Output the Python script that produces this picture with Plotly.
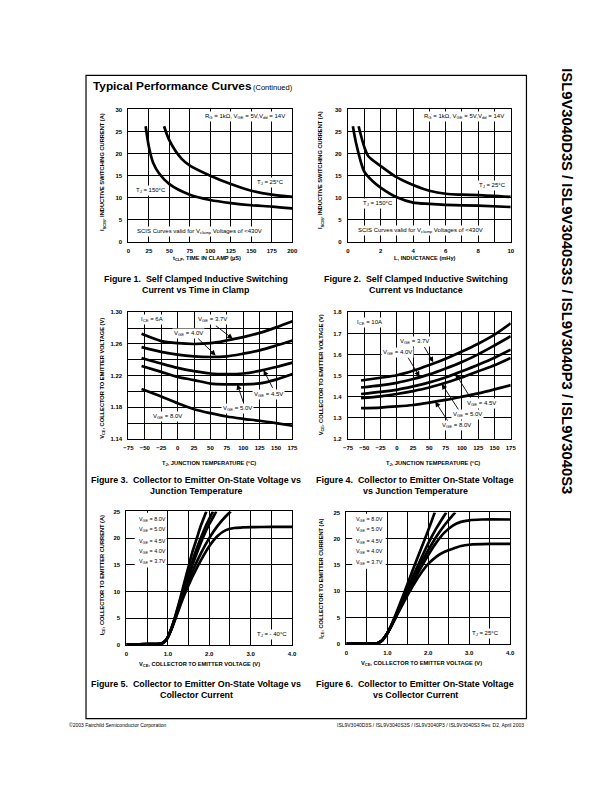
import plotly.graph_objects as go

W, H = 612, 792
FONT = "Liberation Sans"

# ---------------- DATA ----------------
# Figure 1: I_SCIS vs time in clamp
fig1_t25_t = [43.5, 50, 65, 75, 100, 125, 150, 175, 200]
fig1_t25_i = [26.2, 23.0, 18.8, 17.3, 15.0, 13.1, 11.6, 10.7, 10.2]
fig1_t150_t = [21, 25, 30, 37.5, 50, 75, 100, 125, 150, 175, 200]
fig1_t150_i = [26.2, 21.5, 18.0, 15.5, 13.1, 10.7, 9.5, 8.8, 8.3, 8.0, 7.6]

# Figure 2: I_SCIS vs inductance
fig2_t25_l = [0.65, 1.0, 1.25, 2, 3, 4, 5, 6, 7, 8, 10]
fig2_t25_i = [26.2, 21.5, 19.4, 17.2, 14.6, 12.9, 11.6, 10.9, 10.7, 10.6, 10.2]
fig2_t150_l = [0.3, 0.5, 1.0, 1.5, 2, 3, 4, 5, 6, 8, 10]
fig2_t150_i = [26.2, 22.3, 15.9, 13.8, 12.3, 10.1, 8.9, 8.6, 8.4, 8.2, 7.9]

# Figure 3: VCE vs TJ, ICE = 6A
fig3_tj = [-55, -25, 0, 25, 50, 75, 100, 125, 150, 175]
fig3_v37 = [1.2728, 1.2637, 1.2610, 1.2600, 1.2610, 1.2645, 1.2687, 1.2740, 1.2810, 1.2887]
fig3_v40 = [1.2560, 1.2500, 1.2465, 1.2444, 1.2436, 1.2444, 1.2478, 1.2520, 1.2580, 1.2645]
fig3_v45 = [1.2424, 1.2353, 1.2298, 1.2257, 1.2227, 1.2220, 1.2227, 1.2260, 1.2310, 1.2365]
fig3_v50 = [1.2323, 1.2248, 1.2185, 1.2144, 1.2100, 1.2090, 1.2090, 1.2102, 1.2150, 1.2220]
fig3_v80 = [1.2031, 1.1936, 1.1851, 1.1776, 1.1726, 1.1684, 1.1655, 1.1630, 1.1600, 1.1567]

# Figure 4: VCE vs TJ, ICE = 10A
fig4_tj = [-55, -25, 0, 25, 50, 75, 100, 125, 150, 175]
fig4_v37 = [1.477, 1.490, 1.502, 1.523, 1.550, 1.580, 1.614, 1.651, 1.694, 1.748]
fig4_v40 = [1.444, 1.454, 1.466, 1.484, 1.506, 1.534, 1.565, 1.601, 1.643, 1.687]
fig4_v45 = [1.413, 1.423, 1.433, 1.449, 1.468, 1.491, 1.521, 1.552, 1.585, 1.623]
fig4_v50 = [1.393, 1.402, 1.413, 1.427, 1.444, 1.466, 1.491, 1.521, 1.549, 1.584]
fig4_v80 = [1.346, 1.349, 1.354, 1.361, 1.372, 1.385, 1.400, 1.416, 1.435, 1.455]

# Figure 5: ICE vs VCE, TJ = -40C
fig5_80_x = [0, 0.5, 0.85, 0.95, 1.0, 1.1, 1.2, 1.3, 1.4, 1.5, 1.6, 1.7, 1.8, 1.93]
fig5_80_y = [0.15, 0.2, 0.3, 0.9, 1.5, 3.5, 6.0, 8.8, 11.8, 14.7, 17.6, 20.0, 22.4, 25.0]
fig5_50_x = [0, 0.5, 0.85, 0.95, 1.0, 1.1, 1.2, 1.3, 1.4, 1.5, 1.6, 1.7, 1.8, 1.9, 2.0, 2.09]
fig5_50_y = [0.15, 0.2, 0.3, 0.9, 1.5, 3.4, 5.8, 8.4, 11.0, 13.5, 15.9, 18.1, 20.1, 22.0, 23.6, 25.0]
fig5_45_x = [0, 0.5, 0.85, 0.95, 1.0, 1.1, 1.2, 1.3, 1.4, 1.5, 1.6, 1.7, 1.8, 1.9, 2.0, 2.1, 2.17]
fig5_45_y = [0.15, 0.2, 0.3, 0.9, 1.5, 3.4, 5.7, 8.2, 10.6, 12.9, 15.1, 17.2, 19.2, 21.0, 22.6, 24.0, 25.0]
fig5_40_x = [0, 0.5, 0.85, 0.95, 1.0, 1.1, 1.2, 1.3, 1.4, 1.5, 1.6, 1.8, 2.0, 2.2, 2.4, 2.52]
fig5_40_y = [0.15, 0.2, 0.3, 0.9, 1.5, 3.3, 5.5, 7.8, 10.0, 12.0, 13.9, 17.2, 20.0, 22.3, 24.1, 25.0]
fig5_37_x = [0, 0.5, 0.85, 0.95, 1.0, 1.1, 1.2, 1.3, 1.4, 1.5, 1.6, 1.8, 2.0, 2.2, 2.4, 2.6, 2.8, 3.0, 3.5, 4.0]
fig5_37_y = [0.15, 0.2, 0.3, 0.9, 1.5, 3.2, 5.3, 7.4, 9.4, 11.2, 12.9, 15.9, 18.5, 20.4, 21.5, 21.9, 22.0, 22.05, 22.1, 22.1]

# Figure 6: ICE vs VCE, TJ = 25C
fig6_80_x = [0, 0.5, 0.75, 0.85, 0.9, 1.0, 1.1, 1.2, 1.4, 1.6, 1.8, 2.0, 2.16]
fig6_80_y = [0.05, 0.05, 0.1, 0.5, 0.9, 2.0, 3.6, 5.5, 9.5, 13.6, 17.6, 21.6, 25.0]
fig6_50_x = [0, 0.5, 0.75, 0.85, 0.9, 1.0, 1.1, 1.2, 1.4, 1.6, 1.8, 2.0, 2.2, 2.44]
fig6_50_y = [0.05, 0.05, 0.1, 0.5, 0.9, 2.0, 3.5, 5.3, 8.9, 12.4, 15.8, 19.1, 22.0, 25.0]
fig6_45_x = [0, 0.5, 0.75, 0.85, 0.9, 1.0, 1.1, 1.2, 1.4, 1.6, 1.8, 2.0, 2.2, 2.4, 2.66]
fig6_45_y = [0.05, 0.05, 0.1, 0.5, 0.9, 2.0, 3.5, 5.2, 8.6, 11.8, 14.9, 17.8, 20.4, 22.6, 25.0]
fig6_40_x = [0, 0.5, 0.75, 0.85, 0.9, 1.0, 1.1, 1.2, 1.4, 1.6, 1.8, 2.0, 2.2, 2.4, 2.6, 2.8, 3.0, 3.3, 4.0]
fig6_40_y = [0.05, 0.05, 0.1, 0.5, 0.9, 2.0, 3.4, 5.0, 8.2, 11.3, 14.2, 16.9, 19.3, 21.2, 22.5, 23.2, 23.5, 23.65, 23.65]
fig6_37_x = [0, 0.5, 0.75, 0.85, 0.9, 1.0, 1.1, 1.2, 1.4, 1.6, 1.8, 2.0, 2.2, 2.4, 2.6, 2.8, 3.0, 3.5, 4.0]
fig6_37_y = [0.05, 0.05, 0.1, 0.5, 0.9, 2.0, 3.4, 4.9, 7.9, 10.7, 13.2, 15.2, 16.6, 17.5, 18.1, 18.6, 18.85, 19.0, 19.0]

vge_labels = ["V<sub>GE</sub> = 8.0V", "V<sub>GE</sub> = 5.0V", "V<sub>GE</sub> = 4.5V",
              "V<sub>GE</sub> = 4.0V", "V<sub>GE</sub> = 3.7V"]

# ---------------- LAYOUT HELPERS ----------------
def px(x):
    return x / W

def py(y):
    return 1 - y / H

fig = go.Figure()

def line(xs, ys, n, width=2.7):
    fig.add_trace(go.Scatter(x=xs, y=ys, mode="lines", xaxis="x" + n, yaxis="y" + n,
                             line=dict(color="black", width=width, shape="spline", smoothing=0.8),
                             showlegend=False, hoverinfo="skip"))

line(fig1_t25_t, fig1_t25_i, "")
line(fig1_t150_t, fig1_t150_i, "")
line(fig2_t25_l, fig2_t25_i, "2")
line(fig2_t150_l, fig2_t150_i, "2")
for v in (fig3_v37, fig3_v40, fig3_v45, fig3_v50, fig3_v80):
    line(fig3_tj, v, "3")
for v in (fig4_v37, fig4_v40, fig4_v45, fig4_v50, fig4_v80):
    line(fig4_tj, v, "4")
for xs, ys in ((fig5_80_x, fig5_80_y), (fig5_50_x, fig5_50_y), (fig5_45_x, fig5_45_y),
               (fig5_40_x, fig5_40_y), (fig5_37_x, fig5_37_y)):
    line(xs, ys, "5")
for xs, ys in ((fig6_80_x, fig6_80_y), (fig6_50_x, fig6_50_y), (fig6_45_x, fig6_45_y),
               (fig6_40_x, fig6_40_y), (fig6_37_x, fig6_37_y)):
    line(xs, ys, "6")

tickfont = dict(family=FONT, size=6, color="black", weight="bold")
grid = dict(showgrid=True, gridcolor="black", gridwidth=0.8, zeroline=False,
            showline=True, mirror=True, linecolor="black", linewidth=1.3,
            ticks="", tickfont=tickfont)

panels = [
    ("", (125.7, 292.5), (107.3, 240.7)),
    ("2", (349.3, 515.0), (107.3, 240.7)),
    ("3", (125.7, 292.7), (311.7, 439.3)),
    ("4", (349.3, 515.0), (311.7, 439.3)),
    ("5", (123.7, 292.3), (512.3, 647.0)),
    ("6", (347.7, 514.3), (513.3, 645.7)),
]
xspec = {
    "": dict(range=[0, 200], dtick=25, tick0=0),
    "2": dict(range=[0, 10], dtick=2, tick0=0,
              minor=dict(dtick=1, showgrid=True, gridcolor="black", gridwidth=0.8, ticks="")),
    "3": dict(range=[-75, 175], dtick=25, tick0=-75),
    "4": dict(range=[-75, 175], dtick=25, tick0=-75),
    "5": dict(range=[0, 4], tickvals=[0, 1, 2, 3, 4], ticktext=["0", "1.0", "2.0", "3.0", "4.0"],
              minor=dict(dtick=0.5, showgrid=True, gridcolor="black", gridwidth=0.8, ticks="")),
    "6": dict(range=[0, 4], tickvals=[0, 1, 2, 3, 4], ticktext=["0", "1.0", "2.0", "3.0", "4.0"],
              minor=dict(dtick=0.5, showgrid=True, gridcolor="black", gridwidth=0.8, ticks="")),
}
yspec = {
    "": dict(range=[0, 30], dtick=5, tick0=0),
    "2": dict(range=[0, 30], dtick=5, tick0=0),
    "3": dict(range=[1.14, 1.30], dtick=0.04, tick0=1.14, tickformat=".2f",
              minor=dict(dtick=0.02, showgrid=True, gridcolor="black", gridwidth=0.8, ticks="")),
    "4": dict(range=[1.2, 1.8], dtick=0.1, tick0=1.2, tickformat=".1f"),
    "5": dict(range=[0, 25], dtick=5, tick0=0),
    "6": dict(range=[0, 25], dtick=5, tick0=0),
}
lay = {}
for n, (x0, x1), (y0, y1) in panels:
    lay["xaxis" + n] = dict(domain=[px(x0), px(x1)], anchor="y" + n, ticklabelstandoff=3,
                            **grid, **xspec[n])
    lay["yaxis" + n] = dict(domain=[py(y1), py(y0)], anchor="x" + n, ticklabelstandoff=4,
                            **grid, **yspec[n])

ann = []
def txt(x, y, text, size=6, xref="paper", yref="paper", xanchor="center", bold=False,
        angle=0, bg=None, yanchor="middle"):
    d = dict(x=x, y=y, text=text, xref=xref, yref=yref, xanchor=xanchor, yanchor=yanchor,
             showarrow=False, textangle=angle,
             font=dict(family=FONT, size=size, color="black", weight="bold" if bold else "normal"))
    if bg:
        d["bgcolor"] = bg
        d["borderpad"] = 1
    ann.append(d)

def arrow(n, hx, hy, tx, ty):
    ann.append(dict(x=hx, y=hy, ax=tx, ay=ty, xref="x" + n, yref="y" + n,
                    axref="x" + n, ayref="y" + n, text="", showarrow=True,
                    arrowhead=2, arrowsize=1.2, arrowwidth=0.9, arrowcolor="black"))

# Page title and side text
txt(px(88), py(84), "<b>Typical Performance Curves</b>", size=11.8, xanchor="left")
txt(px(251), py(85), "(Continued)", size=7.5, xanchor="left")
txt(px(572), py(280), "<b>ISL9V3040D3S / ISL9V3040S3S / ISL9V3040P3 / ISL9V3040S3</b>",
    size=14.8, angle=90)
txt(px(63), py(728), "©2003 Fairchild Semiconductor Corporation", size=5, xanchor="left")
txt(px(531), py(728), "ISL9V3040D3S / ISL9V3040S3S / ISL9V3040P3 / ISL9V3040S3 Rev. D2, April 2003",
    size=5, xanchor="right")

# Axis titles
ytitle_flux = "I<sub>SCIS</sub>, INDUCTIVE SWITCHING CURRENT (A)"
ytitle_vce = "V<sub>CE</sub>, COLLECTOR TO EMITTER VOLTAGE (V)"
ytitle_ice = "I<sub>CE</sub>, COLLECTOR TO EMITTER CURRENT (A)"
txt(px(100), py(170), ytitle_flux, size=5.7, bold=True, angle=-90)
txt(px(322), py(168), ytitle_flux, size=5.7, bold=True, angle=-90)
txt(px(98.5), py(378), ytitle_vce, size=5.7, bold=True, angle=-90)
txt(px(322), py(375), ytitle_vce, size=5.7, bold=True, angle=-90)
txt(px(99.5), py(577), ytitle_ice, size=5.7, bold=True, angle=-90)
txt(px(322), py(580), ytitle_ice, size=5.7, bold=True, angle=-90)

txt(px(206), py(257), "t<sub>CLP</sub>, TIME IN CLAMP (µS)", size=5.7, bold=True)
txt(px(428), py(257), "L, INDUCTANCE (mHy)", size=5.7, bold=True)
txt(px(208), py(464), "T<sub>J</sub>, JUNCTION TEMPERATURE (°C)", size=5.7, bold=True)
txt(px(436), py(464), "T<sub>J</sub>, JUNCTION TEMPERATURE (°C)", size=5.7, bold=True)
txt(px(198), py(667), "V<sub>CE</sub>, COLLECTOR TO EMITTER VOLTAGE (V)", size=5.7, bold=True)
txt(px(424), py(666), "V<sub>CE</sub>, COLLECTOR TO EMITTER VOLTAGE (V)", size=5.7, bold=True)

# Captions
SP = " \u00a0"
caps = [
    (195, 278, "Figure 1." + SP + "Self Clamped Inductive Switching", "Current vs Time in Clamp"),
    (419, 278, "Figure 2." + SP + "Self Clamped Inductive Switching", "Current vs Inductance"),
    (195, 481, "Figure 3." + SP + "Collector to Emitter On-State Voltage vs", "Junction Temperature"),
    (418, 481, "Figure 4." + SP + "Collector to Emitter On-State Voltage", "vs Junction Temperature"),
    (195, 686, "Figure 5." + SP + "Collector to Emitter On-State Voltage vs", "Collector Current"),
    (418, 686, "Figure 6." + SP + "Collector to Emitter On-State Voltage", "vs Collector Current"),
]
for cx, cy, l1, l2 in caps:
    txt(px(cx), py(cy), l1, size=8.9, bold=True)
    txt(px(cx), py(cy + 11.2), l2, size=8.9, bold=True)

# Plot 1 annotations
cond = "R<sub>G</sub> = 1kΩ, V<sub>GE</sub> = 5V,V<sub>dd</sub> = 14V"
scis = "SCIS Curves valid for V<sub>clamp</sub> Voltages of &lt;430V"
txt(142.2, 28.5, cond, xref="x", yref="y", bg="white")
txt(173.6, 13.4, "T<sub>J</sub> = 25°C", xref="x", yref="y", bg="white")
txt(28, 11.55, "T<sub>J</sub> = 150°C", xref="x", yref="y", bg="white")
txt(86.8, 2.4, scis, xref="x", yref="y", bg="white")
# Plot 2
txt(7.14, 28.5, cond, xref="x2", yref="y2", bg="white")
txt(8.85, 12.68, "T<sub>J</sub> = 25°C", xref="x2", yref="y2", bg="white")
txt(1.87, 8.63, "T<sub>J</sub> = 150°C", xref="x2", yref="y2", bg="white")
txt(4.47, 2.55, scis, xref="x2", yref="y2", bg="white")
# Plot 3
txt(-58.5, 1.2904, "I<sub>CE</sub> = 6A", xref="x3", yref="y3", xanchor="left", bg="white")
txt(53.7, 1.2904, "V<sub>GE</sub> = 3.7V", xref="x3", yref="y3", bg="white")
txt(16.3, 1.2728, "V<sub>GE</sub> = 4.0V", xref="x3", yref="y3", bg="white")
txt(138.6, 1.1964, "V<sub>GE</sub> = 4.5V", xref="x3", yref="y3", bg="white")
txt(91.2, 1.178, "V<sub>GE</sub> = 5.0V", xref="x3", yref="y3", bg="white")
txt(-16.1, 1.1684, "V<sub>GE</sub> = 8.0V", xref="x3", yref="y3", bg="white")
arrow("3", 84, 1.2665, 56, 1.2845)
arrow("3", 58, 1.2455, 29, 1.2687)
arrow("3", 131, 1.2269, 146, 1.2027)
arrow("3", 91, 1.209, 101, 1.1843)
# Plot 4
txt(-63.9, 1.75, "I<sub>CE</sub> = 10A", xref="x4", yref="y4", xanchor="left", bg="white")
txt(26.6, 1.662, "V<sub>GE</sub> = 3.7V", xref="x4", yref="y4", bg="white")
txt(1.5, 1.609, "V<sub>GE</sub> = 4.0V", xref="x4", yref="y4", bg="white")
txt(129.7, 1.369, "V<sub>GE</sub> = 4.5V", xref="x4", yref="y4", bg="white")
txt(108.1, 1.314, "V<sub>GE</sub> = 5.0V", xref="x4", yref="y4", bg="white")
txt(92, 1.2626, "V<sub>GE</sub> = 8.0V", xref="x4", yref="y4", bg="white")
arrow("4", 56, 1.563, 41, 1.643)
arrow("4", 35, 1.495, 16, 1.592)
arrow("4", 90, 1.51, 114.6, 1.388)
arrow("4", 69, 1.461, 96, 1.333)
arrow("4", 59, 1.377, 79.4, 1.28)
# Plot 5
for lab, yy in zip(vge_labels, [23.58, 21.53, 19.43, 17.57, 15.66]):
    txt(0.245, yy, lab, size=5.4, xref="x5", yref="y5", xanchor="left")
txt(3.52, 1.92, "T<sub>J</sub> = - 40°C", xref="x5", yref="y5", bg="white")
# Plot 6
for lab, yy in zip(vge_labels, [23.6, 21.66, 19.52, 17.57, 15.43]):
    txt(0.19, yy, lab, size=5.4, xref="x6", yref="y6", xanchor="left")
txt(3.4, 1.89, "T<sub>J</sub> = 25°C", xref="x6", yref="y6", bg="white")

shapes = [
    dict(type="rect", xref="paper", yref="paper", x0=px(82.5), x1=px(531), y0=py(721), y1=py(73),
         line=dict(color="black", width=1.2), fillcolor="rgba(0,0,0,0)"),
    dict(type="rect", xref="x5", yref="y5", x0=0.2, x1=0.97, y0=14.5, y1=24.75,
         fillcolor="white", line=dict(width=0), layer="above"),
    dict(type="rect", xref="x6", yref="y6", x0=0.14, x1=0.96, y0=14.3, y1=24.75,
         fillcolor="white", line=dict(width=0), layer="above"),
]

fig.update_layout(width=W, height=H, margin=dict(l=0, r=0, t=0, b=0),
                  paper_bgcolor="white", plot_bgcolor="white",
                  annotations=ann, shapes=shapes, showlegend=False, **lay)
fig.write_html("out.html", config={"displayModeBar": False},
               post_script="document.body.style.margin='0';document.body.style.overflow='hidden';")
